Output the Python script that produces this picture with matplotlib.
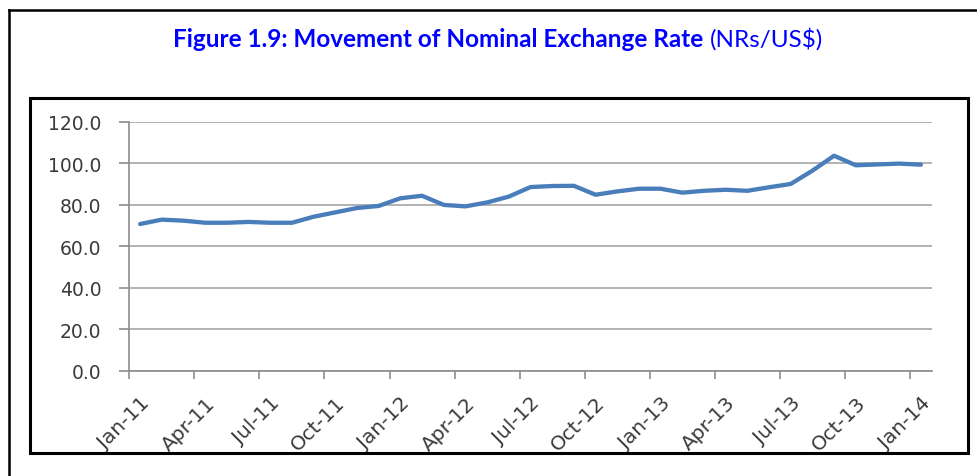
import matplotlib
matplotlib.use('Agg')
import matplotlib.pyplot as plt
from matplotlib.patches import Rectangle
from matplotlib.lines import Line2D

# monthly nominal exchange rate, NRs per US$ (Jan-11 .. Jan-14)
months = ['Jan-11', 'Feb-11', 'Mar-11', 'Apr-11', 'May-11', 'Jun-11', 'Jul-11', 'Aug-11',
          'Sep-11', 'Oct-11', 'Nov-11', 'Dec-11', 'Jan-12', 'Feb-12', 'Mar-12', 'Apr-12',
          'May-12', 'Jun-12', 'Jul-12', 'Aug-12', 'Sep-12', 'Oct-12', 'Nov-12', 'Dec-12',
          'Jan-13', 'Feb-13', 'Mar-13', 'Apr-13', 'May-13', 'Jun-13', 'Jul-13', 'Aug-13',
          'Sep-13', 'Oct-13', 'Nov-13', 'Dec-13', 'Jan-14']
rate = [70.7, 72.8, 72.3, 71.3, 71.3, 71.7, 71.3, 71.3,
        74.2, 76.3, 78.4, 79.4, 83.1, 84.3, 79.9, 79.2,
        81.1, 83.9, 88.5, 89.0, 89.1, 84.8, 86.4, 87.7,
        87.7, 85.8, 86.7, 87.2, 86.7, 88.4, 90.0, 96.4,
        103.6, 99.0, 99.4, 99.8, 99.3]
yticks = [0, 20, 40, 60, 80, 100, 120]

W, H = 977, 477
fig = plt.figure(figsize=(W / 100, H / 100), dpi=100)
fig.patch.set_facecolor('white')

# outer document box (top + left edges) and inner chart frame
fig.add_artist(Line2D([8.5 / W, 1.0], [1 - 10.5 / H, 1 - 10.5 / H], color='black', lw=1.8))
fig.add_artist(Line2D([8.5 / W, 8.5 / W], [0, 1 - 10.5 / H], color='black', lw=1.8))
fig.add_artist(Rectangle((30 / W, 1 - 454 / H), (968 - 30) / W, (454 - 99) / H,
                         fill=False, edgecolor='black', lw=2.2))

# title: bold part + normal part, centred as a whole
t1 = fig.text(0, 1 - 47 / H, 'Figure 1.9: Movement of Nominal Exchange Rate ',
              color='#0000FF', fontsize=17.5, fontweight='bold', family='Lato',
              ha='left', va='baseline')
t2 = fig.text(0, 1 - 47 / H, '(NRs/US$)', color='#0000FF', fontsize=17.5,
              family='Lato', ha='left', va='baseline')
fig.canvas.draw()
w1 = t1.get_window_extent().width
w2 = t2.get_window_extent().width
x0 = 498 - (w1 + w2) / 2
t1.set_x(x0 / W)
t2.set_x((x0 + w1) / W)

ax = fig.add_axes([129.3 / W, 1 - 371.7 / H, (931.7 - 129.3) / W, (371.7 - 122.7) / H])
x = list(range(len(months)))
ax.plot(x, rate, color='#4A7EBB', lw=3.1, solid_joinstyle='round', solid_capstyle='round')

ax.set_xlim(-0.5, len(months) - 0.5)
ax.set_ylim(0, 120)
ax.set_yticks(yticks)
ax.set_yticklabels([f'{v:.1f}' for v in yticks])
ax.yaxis.grid(True, color='#A6A6A6', lw=1.2)
ax.set_axisbelow(True)

ax.set_xticks(x[::3])
ax.set_xticklabels(months[::3], rotation=45, ha='right', va='top', rotation_mode='anchor')
ax.set_xticks([i - 0.5 for i in x[::3]], minor=True)
ax.tick_params(axis='x', which='major', length=0, pad=16, labelsize=14.5, labelcolor='#3A3A3A')
ax.tick_params(axis='x', which='minor', length=6, width=1.2, color='#8C8C8C')
ax.tick_params(axis='y', length=7, width=1.2, color='#8C8C8C', pad=13,
               labelsize=13.5, labelcolor='#3A3A3A')

for s in ['top', 'right']:
    ax.spines[s].set_visible(False)
for s in ['left', 'bottom']:
    ax.spines[s].set_color('#8C8C8C')
    ax.spines[s].set_linewidth(1.2)

fig.savefig('out.png', dpi=100, facecolor='white')
